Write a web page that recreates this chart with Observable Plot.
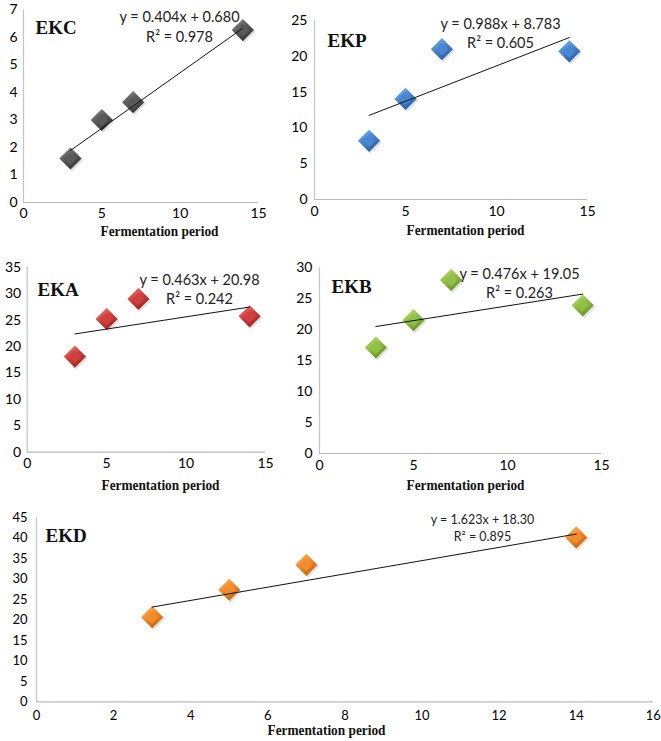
<!DOCTYPE html>
<html>
<head>
<meta charset="utf-8">
<script src="https://cdn.jsdelivr.net/npm/d3@7"></script>
<script src="https://cdn.jsdelivr.net/npm/@observablehq/plot@0.6"></script>
<style>
  body { margin: 0; background: #fff; }
  #wrap { position: relative; width: 661px; height: 741px; overflow: hidden; background: #fff; }
  #wrap svg { position: absolute; overflow: visible; }
</style>
</head>
<body>
<div id="wrap"></div>
<script>
// ---- data ----
const periods = [3, 5, 7, 14];
const names = ["EKC", "EKP", "EKA", "EKB", "EKD"];
const ekc = [1.6, 3.0, 3.65, 6.27];
const ekp = [8.2, 14.05, 21.0, 20.7];
const eka = [18.1, 25.2, 29.0, 25.7];
const ekb = [17.1, 21.5, 28.0, 23.9];
const ekd = [20.7, 27.4, 33.5, 40.2];
const slopes = [0.404, 0.988, 0.463, 0.476, 1.623];
const intercepts = [0.680, 8.783, 20.98, 19.05, 18.30];
const equations = ["y = 0.404x + 0.680", "y = 0.988x + 8.783", "y = 0.463x + 20.98", "y = 0.476x + 19.05", "y = 1.623x + 18.30"];
const r2 = ["R² = 0.978", "R² = 0.605", "R² = 0.242", "R² = 0.263", "R² = 0.895"];
const xTitle = "Fermentation period";
const xTicksSmall = [0, 5, 10, 15];
const xTicksWide = [0, 2, 4, 6, 8, 10, 12, 14, 16];
const yTicksEKC = [0, 1, 2, 3, 4, 5, 6, 7];
const yTicksEKP = [0, 5, 10, 15, 20, 25];
const yTicksEKA = [0, 5, 10, 15, 20, 25, 30, 35];
const yTicksEKB = [0, 5, 10, 15, 20, 25, 30];
const yTicksEKD = [0, 5, 10, 15, 20, 25, 30, 35, 40, 45];
const seriesValues = [ekc, ekp, eka, ekb, ekd];

// ---- layout / styles (page pixels) ----
const panels = [
  {box:[0,0,300,240], xr:[23,258], yr:[9.5,202], xd:[0,15], yd:[0,7], xt:xTicksSmall, yt:yTicksEKC,
   colors:["#8e8e8e","#5a5a5a","#363636"], fs:14, pad:6,
   name:[35,33], eq:[179,21], r2:[179,41], title:[159,235]},
  {box:[300,0,361,240], xr:[314,587], yr:[20,199], xd:[0,15], yd:[0,25], xt:xTicksSmall, yt:yTicksEKP,
   colors:["#86b8f0","#4a86cf","#2a5ea3"], fs:14, pad:7,
   name:[327,46], eq:[500,28], r2:[500,47], title:[465,234]},
  {box:[0,250,300,245], xr:[26.7,265], yr:[266.7,451.7], xd:[0,15], yd:[0,35], xt:xTicksSmall, yt:yTicksEKA,
   colors:["#f08a86","#d0413e","#9c2724"], fs:14, pad:6,
   name:[37,295], eq:[199,284], r2:[199,303], title:[160,489]},
  {box:[300,250,361,245], xr:[319,601], yr:[267,453], xd:[0,15], yd:[0,30], xt:xTicksSmall, yt:yTicksEKB,
   colors:["#c6e58a","#92c046","#679126"], fs:14, pad:7,
   name:[331,292], eq:[519,278], r2:[519,297], title:[465,489]},
  {box:[0,505,661,236], xr:[36,652.8], yr:[517.3,701.3], xd:[0,16], yd:[0,45], xt:xTicksWide, yt:yTicksEKD,
   colors:["#fcbd70","#f28c2e","#c4640e"], fs:13, pad:9,
   name:[45,541], eq:[482,523], r2:[482,540], title:[326,734]}
];

const wrap = document.getElementById("wrap");

panels.forEach((p, i) => {
  const [L, T, Wd, Ht] = p.box;
  const ml = p.xr[0] - L, mr = L + Wd - p.xr[1], mt = p.yr[0] - T, mb = T + Ht - p.yr[1];
  const data = periods.map((x, k) => ({x, y: seriesValues[i][k]}));
  const ext = d3.extent(periods);
  const trend = ext.map(x => ({x, y: slopes[i] * x + intercepts[i]}));
  const gid = "g" + names[i];
  const rel = (pt) => ({dx: pt[0] - p.xr[0], dy: pt[1] - p.yr[0]});
  const eqSize = i < 4 ? 14.5 : 12.5;

  const svg = Plot.plot({
    width: Wd, height: Ht,
    marginLeft: ml, marginRight: mr, marginTop: mt, marginBottom: mb,
    style: {fontFamily: "Lato, 'Open Sans', sans-serif", fontSize: p.fs + "px", color: "#000", background: "transparent", overflow: "visible"},
    x: {domain: p.xd}, y: {domain: p.yd},
    marks: [
      Plot.axisX({ticks: p.xt, tickFormat: d => String(d), tickSize: 0, tickPadding: p.pad, label: null, fontSize: p.fs}),
      Plot.axisY({ticks: p.yt, tickFormat: d => String(d), tickSize: 0, tickPadding: p.pad, label: null, fontSize: p.fs}),
      Plot.ruleY([0], {stroke: "#b8b8b8", strokeWidth: 1.2}),
      Plot.ruleX([0], {stroke: "#c4c4c4", strokeWidth: 1.2}),
      Plot.dot(data, {x: "x", y: "y", symbol: "diamond2", r: 10.3, fill: "#000", fillOpacity: 0.12, dx: 1.5, dy: 1.5}),
      Plot.dot(data, {x: "x", y: "y", symbol: "diamond2", r: 10, fill: `url(#${gid})`}),
      Plot.dot(data, {x: "x", y: "y", symbol: "diamond2", r: 5.6, fill: `url(#${gid}i)`}),
      Plot.line(trend, {x: "x", y: "y", stroke: "#111", strokeWidth: 1}),
      Plot.text([names[i]], {text: d => d, frameAnchor: "top-left", ...rel(p.name), textAnchor: "start", lineAnchor: "bottom",
        fontFamily: "'Liberation Serif', 'Times New Roman', serif", fontWeight: "bold", fontSize: 19, fill: "#111"}),
      Plot.text([equations[i]], {text: d => d, frameAnchor: "top-left", ...rel(p.eq), textAnchor: "middle", lineAnchor: "bottom",
        fontSize: eqSize, fill: "#222"}),
      Plot.text([r2[i]], {text: d => d, frameAnchor: "top-left", ...rel(p.r2), textAnchor: "middle", lineAnchor: "bottom",
        fontSize: eqSize, fill: "#222"}),
      Plot.text([xTitle], {text: d => d, frameAnchor: "top-left", ...rel(p.title), textAnchor: "middle", lineAnchor: "bottom",
        fontFamily: "'Liberation Serif', 'Times New Roman', serif", fontWeight: "bold", fontSize: 14, fill: "#111"})
    ]
  });

  const s = d3.select(svg);
  // widen the bold serif axis title like the reference's stretched rendering
  s.selectAll("text").filter(function() { return this.textContent === xTitle; })
    .attr("textLength", 118).attr("lengthAdjust", "spacingAndGlyphs");
  const defs = s.insert("defs", ":first-child");
  const g = defs.append("linearGradient").attr("id", gid)
    .attr("x1", "0").attr("y1", "0").attr("x2", "0.6").attr("y2", "1");
  g.append("stop").attr("offset", "0").attr("stop-color", p.colors[0]);
  g.append("stop").attr("offset", "0.5").attr("stop-color", p.colors[1]);
  g.append("stop").attr("offset", "1").attr("stop-color", p.colors[2]);
  const gi = defs.append("linearGradient").attr("id", gid + "i")
    .attr("x1", "0").attr("y1", "0").attr("x2", "0").attr("y2", "1");
  gi.append("stop").attr("offset", "0").attr("stop-color", p.colors[1]);
  gi.append("stop").attr("offset", "1").attr("stop-color", p.colors[1]);

  svg.style.left = L + "px";
  svg.style.top = T + "px";
  wrap.appendChild(svg);
});
</script>
</body>
</html>
